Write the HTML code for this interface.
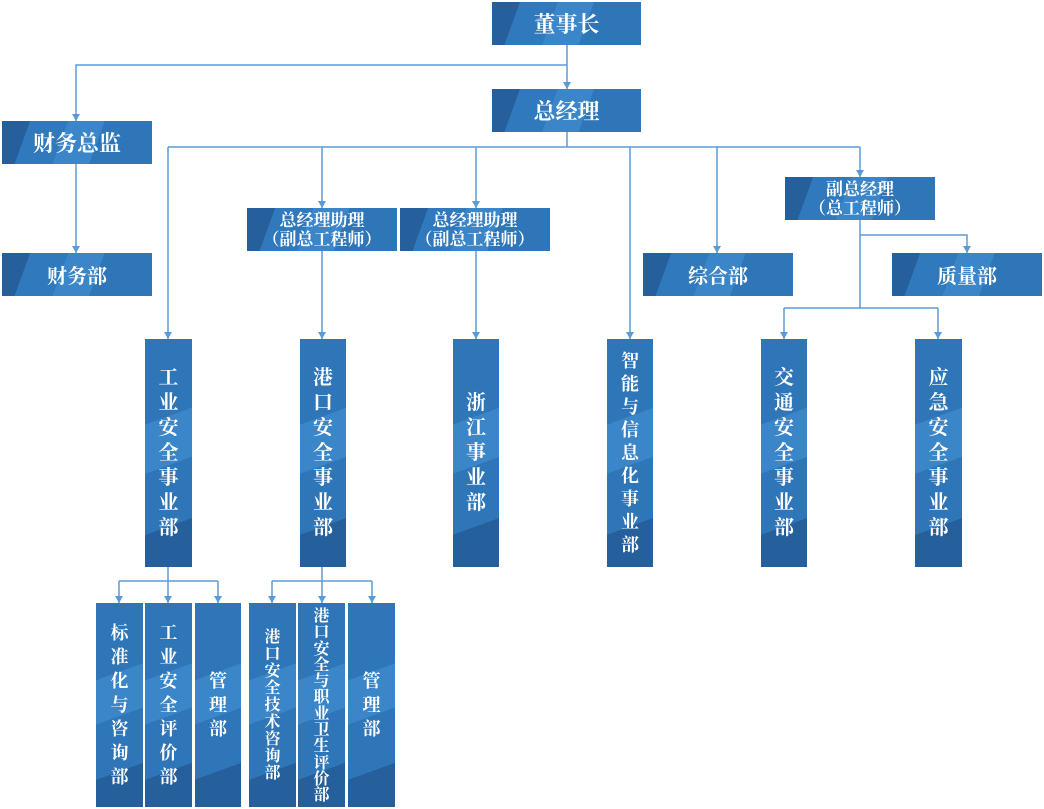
<!DOCTYPE html>
<html><head><meta charset="utf-8"><style>
body{margin:0;width:1044px;height:809px;background:#fff;position:relative;overflow:hidden;font-family:"Liberation Serif","Noto Serif CJK SC",serif;}
.b{position:absolute;color:#fff;font-weight:bold;display:flex;align-items:center;justify-content:center;text-align:center;box-sizing:border-box;
background:linear-gradient(110deg,#25609c 0,#25609c 17%,#3079bc 17%,#3079bc 40%,#3b86c9 40%,#3b86c9 62%,#2f76b8 62%);}
.h{font-size:22px;}
.s{font-size:17px;line-height:19px;}
.v{background:linear-gradient(160deg,#2f76b8 0,#2f76b8 35%,#3b86c9 35%,#3b86c9 55%,#2f76b8 55%,#2f76b8 80%,#25609c 80%);font-size:20px;line-height:25px;}
.m{font-size:18px;line-height:24px;}
.n{font-size:16px;line-height:17px;}
svg{position:absolute;left:0;top:0;}
</style></head><body>
<svg width="1044" height="809" fill="none" stroke="#5b9bd5" stroke-width="1.5">
<path d="M567 45V89M567 65H76V121M76 164V253M567 132V147M168 147H860M168 147V339M322 147V208M476 147V208M630 147V339M717 147V253M860 147V177M322 251V339M476 251V339M860 220V308M784 308H938M784 308V339M938 308V339M860 235H967V253M168 567V581M119 581H218M119 581V603M168 581V603M218 581V603M322 567V581M272 581H372M272 581V603M322 581V603M372 581V603"/>
<g fill="#5b9bd5" stroke="none">
<path d="M563 82h8l-4 7zM72 114h8l-4 7zM72 246h8l-4 7zM164 332h8l-4 7zM318 201h8l-4 7zM472 201h8l-4 7zM626 332h8l-4 7zM713 246h8l-4 7zM856 170h8l-4 7zM318 332h8l-4 7zM472 332h8l-4 7zM780 332h8l-4 7zM934 332h8l-4 7zM963 246h8l-4 7zM115 596h8l-4 7zM164 596h8l-4 7zM214 596h8l-4 7zM268 596h8l-4 7zM318 596h8l-4 7zM368 596h8l-4 7z"/>
</g></svg>
<div class="b h" style="left:492px;top:2px;width:149px;height:43px">董事长</div>
<div class="b h" style="left:492px;top:89px;width:149px;height:43px">总经理</div>
<div class="b h" style="left:2px;top:121px;width:150px;height:43px">财务总监</div>
<div class="b h" style="left:2px;top:253px;width:150px;height:43px;font-size:20px">财务部</div>
<div class="b s" style="left:247px;top:208px;width:150px;height:43px">总经理助理<br>（副总工程师）</div>
<div class="b s" style="left:400px;top:208px;width:150px;height:43px">总经理助理<br>（副总工程师）</div>
<div class="b s" style="left:785px;top:177px;width:150px;height:43px">副总经理<br>（总工程师）</div>
<div class="b h" style="left:643px;top:253px;width:150px;height:43px;font-size:20px">综合部</div>
<div class="b h" style="left:892px;top:253px;width:150px;height:43px;font-size:20px">质量部</div>
<div class="b v" style="left:145px;top:339px;width:47px;height:228px">工<br>业<br>安<br>全<br>事<br>业<br>部</div>
<div class="b v" style="left:300px;top:339px;width:46px;height:228px">港<br>口<br>安<br>全<br>事<br>业<br>部</div>
<div class="b v" style="left:453px;top:339px;width:46px;height:228px">浙<br>江<br>事<br>业<br>部</div>
<div class="b v" style="left:607px;top:339px;width:46px;height:228px;font-size:18px;line-height:23px">智<br>能<br>与<br>信<br>息<br>化<br>事<br>业<br>部</div>
<div class="b v" style="left:761px;top:339px;width:46px;height:228px">交<br>通<br>安<br>全<br>事<br>业<br>部</div>
<div class="b v" style="left:915px;top:339px;width:47px;height:228px">应<br>急<br>安<br>全<br>事<br>业<br>部</div>
<div class="b v m" style="left:96px;top:603px;width:47px;height:204px">标<br>准<br>化<br>与<br>咨<br>询<br>部</div>
<div class="b v m" style="left:145px;top:603px;width:47px;height:204px">工<br>业<br>安<br>全<br>评<br>价<br>部</div>
<div class="b v m" style="left:195px;top:603px;width:46px;height:204px">管<br>理<br>部</div>
<div class="b v n" style="left:249px;top:603px;width:47px;height:204px">港<br>口<br>安<br>全<br>技<br>术<br>咨<br>询<br>部</div>
<div class="b v n" style="left:298px;top:603px;width:47px;height:204px;line-height:16.3px;align-items:flex-start;padding-top:6px">港<br>口<br>安<br>全<br>与<br>职<br>业<br>卫<br>生<br>评<br>价<br>部</div>
<div class="b v m" style="left:348px;top:603px;width:47px;height:204px">管<br>理<br>部</div>
</body></html>
